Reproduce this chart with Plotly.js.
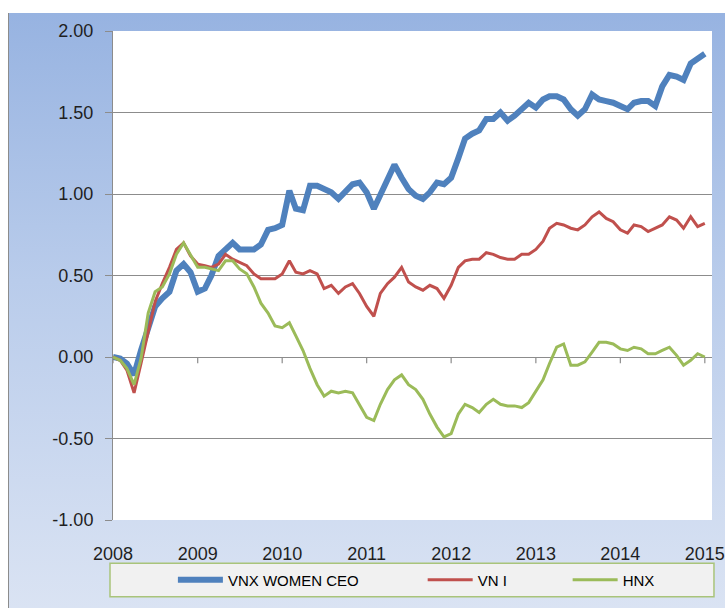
<!DOCTYPE html>
<html>
<head>
<meta charset="utf-8">
<script src="https://cdn.plot.ly/plotly-3.0.1.min.js"></script>
<style>
  html, body { margin: 0; padding: 0; background: #ffffff; }
  #wrap { position: relative; width: 725px; height: 608px; overflow: hidden; }
  #panel { position: absolute; left: 8px; top: 13px; width: 717px; height: 595px;
           background: linear-gradient(to bottom, #97b3e1 0%, #b9cceb 45%, #dae3f3 100%);
           border-left: 1px solid #8c8c8c; box-sizing: border-box; }
  #chart { position: absolute; left: 0; top: 0; width: 725px; height: 608px; }
</style>
</head>
<body>
<div id="wrap">
  <div id="panel"></div>
  <div id="chart"></div>
</div>
<script>
// ---- data (monthly, Jan 2008 .. Jan 2015) ----
const startYear = 2008;
const startMonth = 1;

const seriesNames = ['VNX WOMEN CEO', 'VN I', 'HNX'];

const vnxWomenCeo = [
  0.00,-0.01,-0.04,-0.11,0.04,0.19,0.31,0.36,0.40,0.53,
  0.57,0.52,0.40,0.42,0.50,0.62,0.66,0.70,0.66,0.66,
  0.66,0.69,0.78,0.79,0.81,1.02,0.91,0.90,1.05,1.05,
  1.03,1.01,0.97,1.01,1.06,1.07,1.01,0.91,1.00,1.10,
  1.18,1.10,1.03,0.99,0.97,1.01,1.07,1.06,1.10,1.22,
  1.34,1.37,1.39,1.46,1.46,1.50,1.45,1.48,1.52,1.56,
  1.53,1.58,1.60,1.60,1.58,1.52,1.48,1.52,1.61,1.58,
  1.57,1.56,1.54,1.52,1.56,1.57,1.57,1.54,1.66,1.73,
  1.72,1.70,1.80,1.83,1.86
];

const vni = [
  0.00,-0.02,-0.08,-0.22,-0.04,0.16,0.34,0.45,0.55,0.66,
  0.70,0.62,0.57,0.56,0.55,0.57,0.63,0.60,0.58,0.56,
  0.51,0.48,0.48,0.48,0.51,0.59,0.52,0.51,0.53,0.51,
  0.42,0.44,0.39,0.43,0.45,0.39,0.31,0.25,0.39,0.45,
  0.49,0.55,0.46,0.43,0.41,0.44,0.42,0.36,0.44,0.55,
  0.59,0.60,0.60,0.64,0.63,0.61,0.60,0.60,0.63,0.63,
  0.66,0.71,0.79,0.82,0.81,0.79,0.78,0.81,0.86,0.89,
  0.85,0.83,0.78,0.76,0.81,0.80,0.77,0.79,0.81,0.86,
  0.84,0.79,0.86,0.80,0.82
];

const hnx = [
  0.00,-0.02,-0.07,-0.17,-0.01,0.27,0.40,0.43,0.51,0.63,
  0.70,0.63,0.55,0.55,0.54,0.53,0.59,0.59,0.54,0.51,
  0.43,0.33,0.27,0.19,0.18,0.21,0.13,0.04,-0.07,-0.17,
  -0.24,-0.21,-0.22,-0.21,-0.22,-0.29,-0.37,-0.39,-0.29,-0.20,
  -0.14,-0.11,-0.17,-0.20,-0.26,-0.35,-0.43,-0.49,-0.47,-0.35,
  -0.29,-0.31,-0.34,-0.29,-0.26,-0.29,-0.30,-0.30,-0.31,-0.28,
  -0.21,-0.14,-0.04,0.06,0.08,-0.05,-0.05,-0.03,0.03,0.09,
  0.09,0.08,0.05,0.04,0.06,0.05,0.02,0.02,0.04,0.06,
  0.01,-0.05,-0.02,0.02,0.00
];

const xTickLabels = ['2008','2009','2010','2011','2012','2013','2014','2015'];
const yTickValues = [-1, -0.5, 0, 0.5, 1, 1.5, 2];
const yTickLabels = ['-1.00','-0.50','0.00','0.50','1.00','1.50','2.00'];

// ---- build month categories ----
const months = vnxWomenCeo.map((_, i) => {
  const m0 = startMonth - 1 + i;
  const y = startYear + Math.floor(m0 / 12);
  const m = (m0 % 12) + 1;
  return y + '-' + String(m).padStart(2, '0') + '-01';
});
const xTickVals = xTickLabels.map(y => y + '-01-01');
const xRange = ['2008-01-01', '2015-02-01'];

const colors = ['#4f81bd', '#c0504d', '#9bbb59'];
const widths = [6, 3, 3];
const values = [vnxWomenCeo, vni, hnx];
const legendIds = ['legend', 'legend2', 'legend3'];

const traces = values.map((v, k) => ({
  type: 'scatter', mode: 'lines', x: months, y: v, name: seriesNames[k],
  line: { color: colors[k], width: widths[k], shape: 'linear' },
  legend: legendIds[k], hoverinfo: 'skip'
}));

const gridC = '#8c8c8c';
const tickFont = { family: 'Liberation Sans, Arial, sans-serif', size: 18, color: '#1f1f1f' };
const legFont = { family: 'Liberation Sans, Arial, sans-serif', size: 15, color: '#000000' };

function leg(x) {
  return { x: x, y: -0.1227, xanchor: 'left', yanchor: 'middle', orientation: 'h',
           bgcolor: 'rgba(0,0,0,0)', borderwidth: 0, font: legFont, itemwidth: 45 };
}

// tick marks hanging below the zero line (category axis crosses at 0)
const zeroTicks = xTickVals.map(v => ({
  type: 'line', xref: 'x', yref: 'y',
  x0: v, x1: v, y0: 0, y1: -0.038, line: { color: gridC, width: 1.2 }, layer: 'below'
}));

const layout = {
  width: 725, height: 608,
  margin: { l: 113, r: 13, t: 31, b: 80, pad: 0 },
  paper_bgcolor: 'rgba(0,0,0,0)',
  plot_bgcolor: '#ffffff',
  showlegend: true,
  xaxis: {
    type: 'date', range: xRange, tickmode: 'array', tickvals: xTickVals, ticktext: xTickLabels,
    showgrid: false, zeroline: false, showline: false, ticks: '', ticklabelstandoff: 21,
    tickfont: tickFont, fixedrange: true
  },
  yaxis: {
    range: [-1, 2], tickmode: 'array', tickvals: yTickValues, ticktext: yTickLabels,
    showgrid: true, gridcolor: gridC, gridwidth: 1, zeroline: false,
    showline: true, linecolor: gridC, linewidth: 1,
    ticks: 'outside', ticklen: 7, tickcolor: gridC, ticklabelstandoff: 8,
    tickfont: tickFont, fixedrange: true
  },
  legend: leg(0.1),
  legend2: leg(0.517),
  legend3: leg(0.759),
  shapes: [{
    type: 'rect', xref: 'paper', yref: 'paper',
    x0: -0.005, x1: 1.0033, y0: -0.157, y1: -0.0885,
    fillcolor: '#f1f1f1', line: { color: '#a9c47a', width: 1.5 }, layer: 'below'
  }].concat(zeroTicks)
};

Plotly.newPlot('chart', traces, layout, { staticPlot: true, displayModeBar: false });
</script>
</body>
</html>
